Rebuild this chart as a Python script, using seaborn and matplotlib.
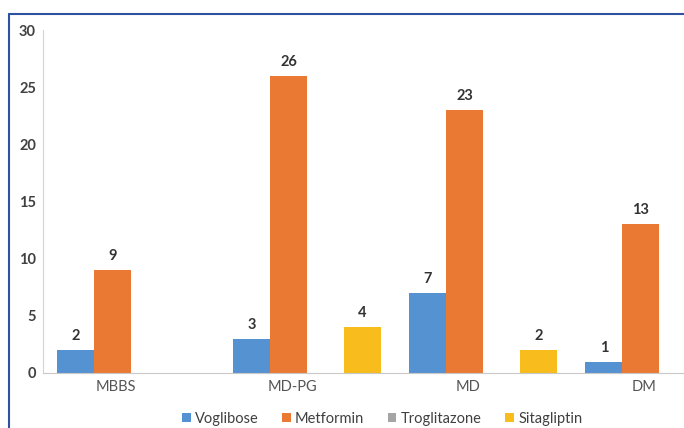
import pandas as pd
import numpy as np
import seaborn as sns
import matplotlib.pyplot as plt
import matplotlib.transforms as mtransforms
from matplotlib.lines import Line2D

# Data
levels = ["MBBS", "MD-PG", "MD", "DM"]
drugs = ["Voglibose", "Metformin", "Troglitazone", "Sitagliptin"]
voglibose = [2, 3, 7, 1]
metformin = [9, 26, 23, 13]
troglitazone = [0, 0, 0, 0]
sitagliptin = [0, 4, 2, 0]
colors = ["#5592d2", "#ea7a33", "#a5a5a5", "#f8bd1c"]

df = pd.DataFrame({
    "level": levels * 4,
    "drug": np.repeat(drugs, 4),
    "count": voglibose + metformin + troglitazone + sitagliptin,
})

sns.set_style("white")
plt.rcParams["font.family"] = ["Lato", "DejaVu Sans"]

fig = plt.figure(figsize=(6.84, 4.28), dpi=100)
ax = fig.add_axes([43 / 684, 1 - 373 / 428, 1 - 43 / 684, (373 - 30) / 428])

sns.barplot(data=df, x="level", y="count", hue="drug", order=levels, hue_order=drugs,
            palette=colors, width=0.84, saturation=1, linewidth=0, ax=ax)

# value labels, skip zero bars
for cont in ax.containers:
    labs = [str(int(v)) if v > 0 else "" for v in cont.datavalues]
    ax.bar_label(cont, labels=labs, padding=5, fontsize=10.5, fontweight="bold", color="#333333")

ax.set_ylim(0, 30)
ax.set_yticks(np.arange(0, 31, 5))
ax.set_xlim(-0.5, 3.14)
ax.set_xlabel("")
ax.set_ylabel("")

for s in ["top", "right"]:
    ax.spines[s].set_visible(False)
ax.spines["left"].set_color("#d4d4d4")
ax.spines["bottom"].set_color("#c8c8c8")
ax.tick_params(axis="y", length=0, pad=5, labelsize=10.5, labelcolor="#404040")
ax.tick_params(axis="x", length=0, pad=5, labelsize=10.5, labelcolor="#555555")
for t in ax.get_yticklabels():
    t.set_fontweight("bold")

# x labels sit a little left of the group centres in the original
shift = mtransforms.ScaledTranslation(-15 / 100, 0, fig.dpi_scale_trans)
for t in ax.get_xticklabels():
    t.set_transform(t.get_transform() + shift)

handles, labels = ax.get_legend_handles_labels()
ax.get_legend().remove()
fig.legend(handles, labels, loc="center", bbox_to_anchor=(382 / 684, 1 - 419 / 428),
           ncol=4, frameon=False, fontsize=10.5, handlelength=0.6, handleheight=0.6,
           handletextpad=0.3, columnspacing=1.6, labelcolor="#404040")

# frame of the original figure (left and top edges only)
fig.add_artist(Line2D([8.5 / 684, 8.5 / 684], [0, 1 - 14 / 428], color="#2f52a0", lw=1.5))
fig.add_artist(Line2D([8.5 / 684, 1], [1 - 14 / 428, 1 - 14 / 428], color="#2f52a0", lw=1.5))

fig.savefig("out.png", dpi=100)
